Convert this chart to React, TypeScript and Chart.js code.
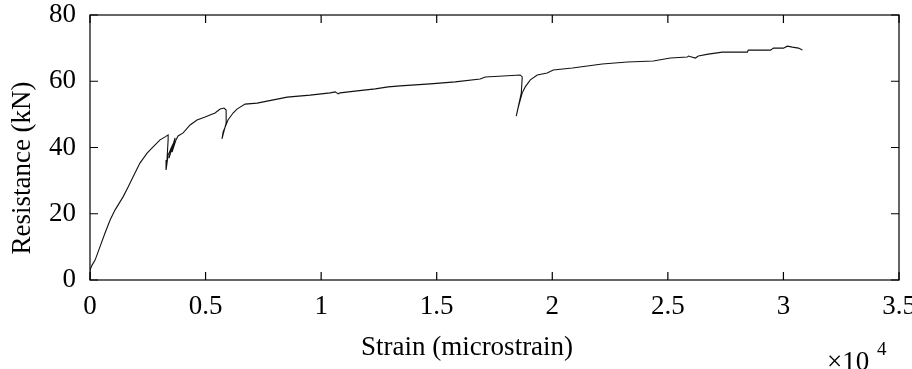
import React, { useEffect, useRef } from 'react';
import { Chart, registerables } from 'chart.js';

Chart.register(...registerables);

// Strain in units of 10^4 microstrain
const strain = [
  0, 0, 0.009, 0.022, 0.043, 0.065, 0.087, 0.108, 0.143, 0.165, 0.186, 0.216, 0.247, 0.273, 0.303, 0.325, 0.338,
  0.338, 0.333, 0.329, 0.338, 0.351, 0.342, 0.359, 0.368, 0.355, 0.372, 0.381, 0.403, 0.433, 0.463, 0.498, 0.519,
  0.541, 0.563, 0.58, 0.589, 0.589, 0.571, 0.576, 0.597, 0.619, 0.636, 0.671, 0.723, 0.766, 0.81, 0.853, 0.952,
  1.039, 1.061, 1.074, 1.082, 1.156, 1.234, 1.29, 1.342, 1.472, 1.58, 1.688, 1.71, 1.788, 1.861, 1.87, 1.866,
  1.844, 1.853, 1.87, 1.883, 1.905, 1.935, 1.978, 2.004, 2.087, 2.152, 2.216, 2.325, 2.437, 2.511, 2.584, 2.589,
  2.619, 2.632, 2.675, 2.736, 2.844, 2.848, 2.944, 2.957, 3.0, 3.017, 3.039, 3.065, 3.082,
];
// Resistance in kN
const resistance = [
  0, 3.0, 4.5, 6.0, 10.0, 14.2, 18.1, 21.1, 25.1, 28.1, 31.1, 35.3, 38.3, 40.2, 42.3, 43.2, 43.8,
  42.3, 36.2, 33.2, 37.7, 39.8, 36.8, 40.8, 42.9, 38.6, 42.3, 43.5, 44.4, 46.8, 48.3, 49.2, 49.8,
  50.4, 51.6, 51.9, 51.3, 47.4, 42.6, 44.7, 48.3, 50.4, 51.6, 53.1, 53.4, 54.0, 54.6, 55.2, 55.8,
  56.5, 56.8, 56.2, 56.5, 57.1, 57.7, 58.3, 58.6, 59.2, 59.8, 60.7, 61.3, 61.6, 61.9, 61.3, 56.5,
  49.5, 52.2, 56.5, 58.3, 60.4, 61.9, 62.5, 63.4, 64.0, 64.6, 65.2, 65.8, 66.1, 67.0, 67.3, 67.6,
  67.0, 67.6, 68.2, 68.8, 68.8, 69.4, 69.4, 70.0, 70.0, 70.6, 70.3, 70.0, 69.4,
];

const xTicks = [0, 0.5, 1, 1.5, 2, 2.5, 3, 3.5];
const xTickLabels = ['0', '0.5', '1', '1.5', '2', '2.5', '3', '3.5'];
const yTicks = [0, 20, 40, 60, 80];
const yTickLabels = ['0', '20', '40', '60', '80'];

const xTitle = 'Strain (microstrain)';
const yTitle = 'Resistance (kN)';
const xMultiplierBase = '×10';
const xMultiplierExp = '4';

const FONT = "'Liberation Serif', 'Times New Roman', serif";

const framePlugin = {
  id: 'frame',
  afterDatasetsDraw(chart: any) {
    const { ctx, chartArea } = chart;
    const xs = chart.scales.x;
    const ys = chart.scales.y;
    const { left, right, top, bottom } = chartArea;
    const tl = 8;
    ctx.save();
    ctx.strokeStyle = '#000';
    ctx.lineWidth = 1.2;
    ctx.strokeRect(left, top, right - left, bottom - top);
    ctx.beginPath();
    xTicks.forEach((v) => {
      const px = xs.getPixelForValue(v);
      ctx.moveTo(px, bottom);
      ctx.lineTo(px, bottom - tl);
      ctx.moveTo(px, top);
      ctx.lineTo(px, top + tl);
    });
    yTicks.forEach((v) => {
      const py = ys.getPixelForValue(v);
      ctx.moveTo(left, py);
      ctx.lineTo(left + tl, py);
      ctx.moveTo(right, py);
      ctx.lineTo(right - tl, py);
    });
    ctx.stroke();

    ctx.fillStyle = '#000';
    // axis titles
    ctx.font = `27px ${FONT}`;
    ctx.textAlign = 'center';
    ctx.textBaseline = 'alphabetic';
    ctx.fillText(xTitle, 467, 355);
    ctx.save();
    ctx.translate(23, 168);
    ctx.rotate(-Math.PI / 2);
    ctx.textBaseline = 'middle';
    ctx.fillText(yTitle, 0, 0);
    ctx.restore();

    // multiplier label
    ctx.textBaseline = 'alphabetic';
    ctx.textAlign = 'left';
    ctx.font = `27px ${FONT}`;
    ctx.fillText(xMultiplierBase, 827, 370);
    ctx.font = `19px ${FONT}`;
    ctx.fillText(xMultiplierExp, 877, 355);
    ctx.restore();
  },
};

export default function App() {
  const canvasRef = useRef<HTMLCanvasElement | null>(null);

  useEffect(() => {
    if (!canvasRef.current) return;
    const points = strain.map((x, i) => ({ x, y: resistance[i] }));
    const chart = new Chart(canvasRef.current, {
      type: 'line',
      data: {
        datasets: [
          {
            data: points,
            borderColor: '#111',
            borderWidth: 1.1,
            pointRadius: 0,
            tension: 0,
            fill: false,
          },
        ],
      },
      options: {
        animation: false,
        responsive: false,
        maintainAspectRatio: false,
        layout: { padding: { top: 15, right: 13, left: 0, bottom: 0 } },
        plugins: { legend: { display: false }, tooltip: { enabled: false } },
        scales: {
          x: {
            type: 'linear',
            min: 0,
            max: 3.5,
            afterBuildTicks: (scale: any) => {
              scale.ticks = xTicks.map((v) => ({ value: v }));
            },
            afterFit: (scale: any) => {
              scale.height = 89;
              scale.paddingLeft = 0;
              scale.paddingRight = 0;
            },
            grid: { display: false, drawTicks: false },
            border: { display: false },
            ticks: {
              padding: 11,
              color: '#000',
              font: { family: FONT, size: 27 },
              maxRotation: 0,
              autoSkip: false,
              callback: (_v: any, i: number) => xTickLabels[i],
            },
            title: { display: false },
          },
          y: {
            type: 'linear',
            min: 0,
            max: 80,
            afterBuildTicks: (scale: any) => {
              scale.ticks = yTicks.map((v) => ({ value: v }));
            },
            afterFit: (scale: any) => {
              scale.width = 90;
              scale.paddingTop = 0;
              scale.paddingBottom = 0;
            },
            grid: { display: false, drawTicks: false },
            border: { display: false },
            ticks: {
              padding: 14,
              color: '#000',
              font: { family: FONT, size: 27 },
              autoSkip: false,
              callback: (_v: any, i: number) => yTickLabels[i],
            },
            title: { display: false },
          },
        },
      },
      plugins: [framePlugin],
    });
    return () => chart.destroy();
  }, []);

  return (
    <div style={{ position: 'fixed', left: 0, top: 0, width: 912, height: 369, background: '#fff' }}>
      <canvas ref={canvasRef} width={912} height={369} style={{ width: 912, height: 369, display: 'block' }} />
    </div>
  );
}
